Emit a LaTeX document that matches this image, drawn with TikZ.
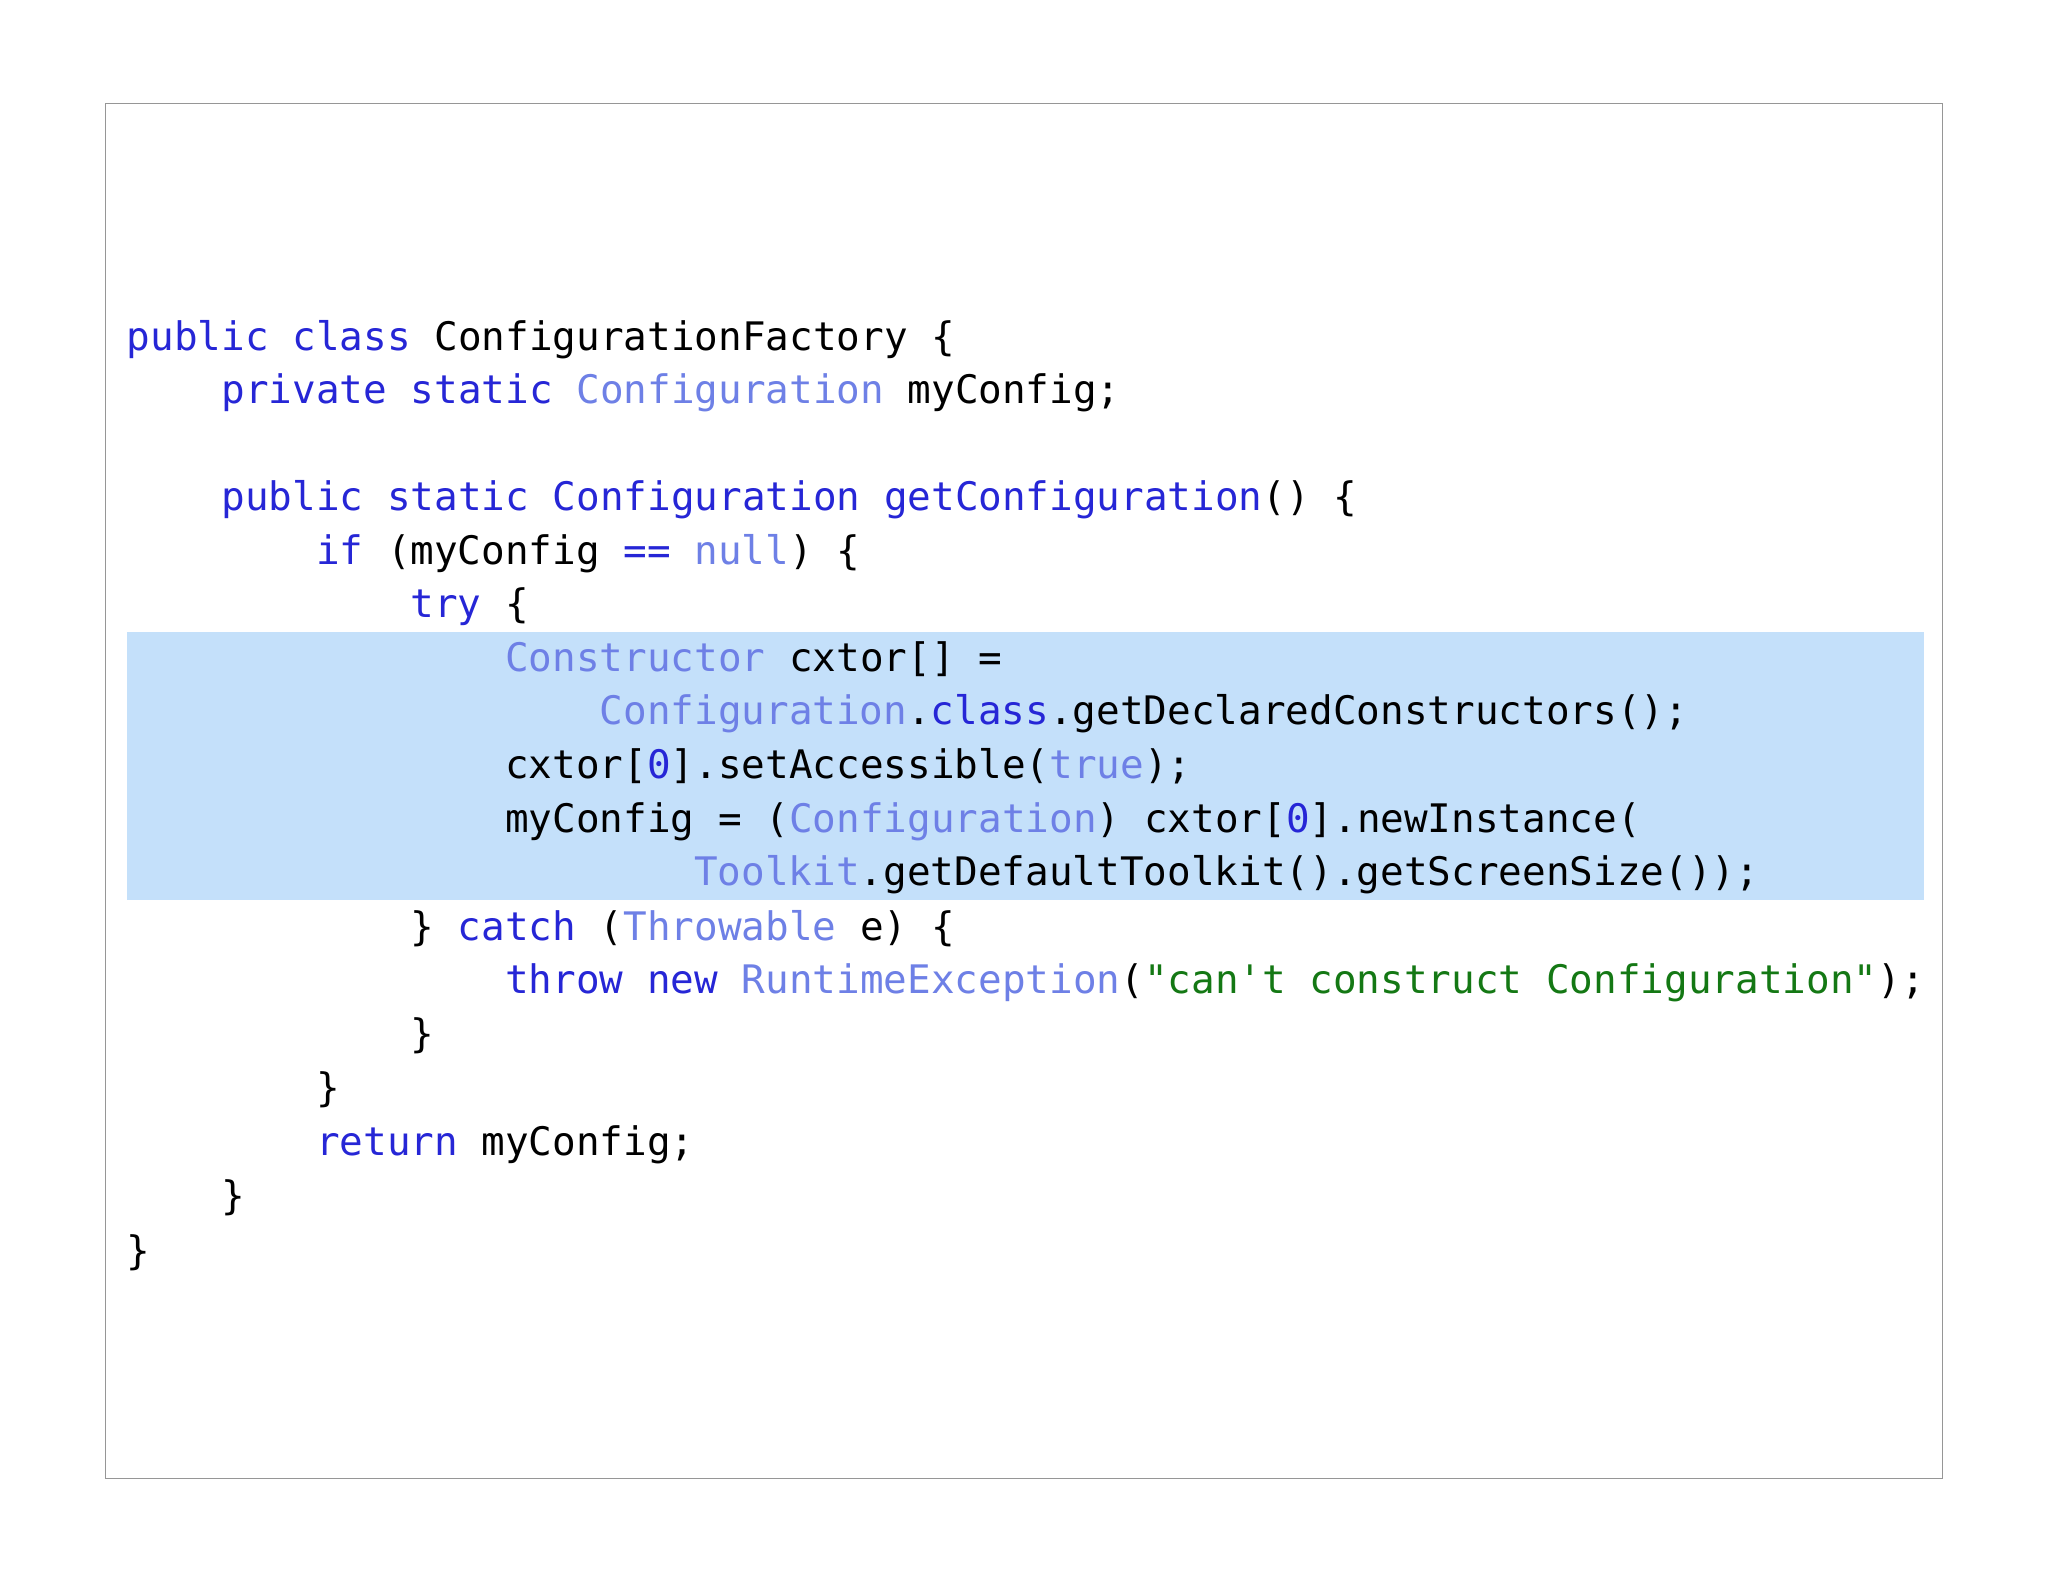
\documentclass[tikz,border=0pt]{standalone}
\usepackage{fontspec}
\newfontfamily\codefont{DejaVu Sans Mono}
\definecolor{kwc}{RGB}{38,38,214}
\definecolor{tyc}{RGB}{110,128,230}
\definecolor{stc}{RGB}{20,120,20}
\definecolor{hlc}{RGB}{196,224,250}
\definecolor{frc}{RGB}{150,150,150}
\newcommand{\kw}[1]{\textcolor{kwc}{#1}}
\newcommand{\ty}[1]{\textcolor{tyc}{#1}}
\newcommand{\strc}[1]{\textcolor{stc}{#1}}
\begin{document}
\begin{tikzpicture}[x=1.306pt,y=-1.306pt,
  codeline/.style={anchor=base west,inner sep=0pt,font=\codefont\fontsize{39.3}{40}\selectfont,text=black}]
\useasboundingbox (0,0) rectangle (1568,1211);
\fill[white] (0,0) rectangle (1568,1211);
\draw[frc,line width=1pt] (81,79) rectangle (1487,1132);
\fill[hlc] (97,484) rectangle (1473,689);
\def\cw{18.1}
\node[codeline] (l1) at (97,268) {\kw{public class} ConfigurationFactory \{};
\node[codeline] (l2) at (97+4*\cw,309) {\kw{private static} \ty{Configuration} myConfig;};
\node[codeline] (l4) at (97+4*\cw,391) {\kw{public static} \kw{Configuration} \kw{getConfiguration}() \{};
\node[codeline] (l5) at (97+8*\cw,432) {\kw{if} (myConfig \kw{==} \ty{null}) \{};
\node[codeline] (l6) at (97+12*\cw,473) {\kw{try} \{};
\node[codeline] (l7) at (97+16*\cw,514) {\ty{Constructor} cxtor[] =};
\node[codeline] (l8) at (97+20*\cw,555) {\ty{Configuration}.\kw{class}.getDeclaredConstructors();};
\node[codeline] (l9) at (97+16*\cw,596) {cxtor[\kw{0}].setAccessible(\ty{true});};
\node[codeline] (l10) at (97+16*\cw,637) {myConfig = (\ty{Configuration}) cxtor[\kw{0}].newInstance(};
\node[codeline] (l11) at (97+24*\cw,678) {\ty{Toolkit}.getDefaultToolkit().getScreenSize());};
\node[codeline] (l12) at (97+12*\cw,720) {\} \kw{catch} (\ty{Throwable} e) \{};
\node[codeline] (l13) at (97+16*\cw,761) {\kw{throw} \kw{new} \ty{RuntimeException}(\strc{"can't construct Configuration"});};
\node[codeline] (l14) at (97+12*\cw,802) {\}};
\node[codeline] (l15) at (97+8*\cw,843) {\}};
\node[codeline] (l16) at (97+8*\cw,885) {\kw{return} myConfig;};
\node[codeline] (l17) at (97+4*\cw,926) {\}};
\node[codeline] (l18) at (97,968) {\}};
\end{tikzpicture}
\end{document}
